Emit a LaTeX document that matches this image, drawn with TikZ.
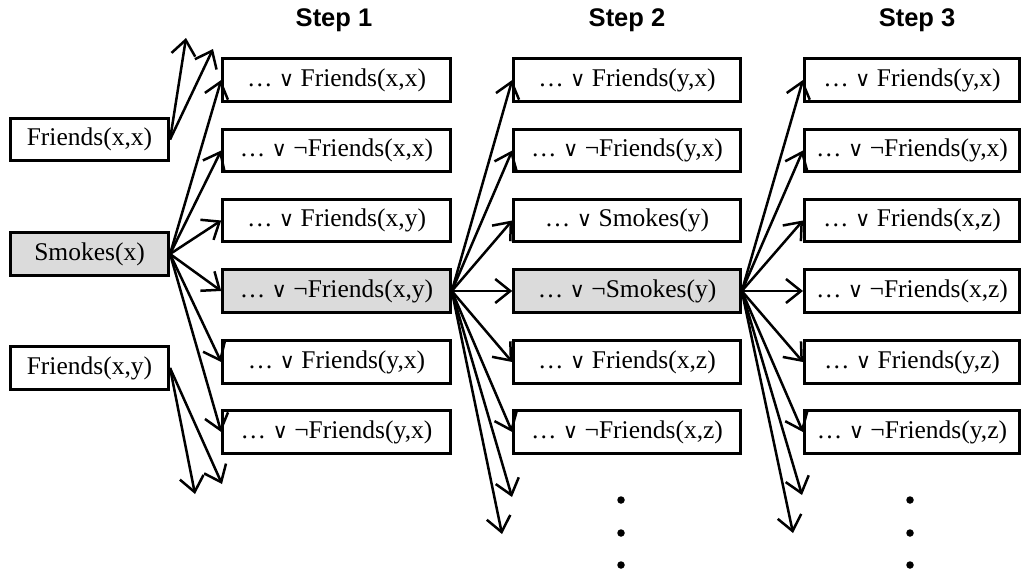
\documentclass[tikz,border=0pt]{standalone}
\usepackage{fontspec}
\setmainfont{Liberation Serif}
\newfontfamily\headfont{Liberation Sans}
\newfontfamily\orfont{DejaVu Sans}
\newcommand{\orsign}{{\orfont\fontsize{21}{24}\selectfont ∨}}
\usetikzlibrary{arrows.meta}
\begin{document}
\begin{tikzpicture}[x=1pt,y=-1pt,
  lit/.style={draw, line width=2.6pt, minimum height=42.5pt, inner sep=0pt,
    font=\fontsize{25.5}{28}\selectfont},
  lefty/.style={lit, minimum width=158.5pt},
  colone/.style={lit, minimum width=228pt},
  coltwo/.style={lit, minimum width=227pt},
  colthree/.style={lit, minimum width=215.5pt},
  hot/.style={fill=black!14},
  head/.style={font=\headfont\bfseries\fontsize{25.5}{30}\selectfont},
  arr/.style={line width=2.5pt, -{Straight Barb[length=15pt,width=24pt]}},
  dot/.style={circle, fill=black, inner sep=0pt, minimum size=7.5pt}]
\useasboundingbox (0,0) rectangle (1027,576);

% column headings
\node[head] (h1) at (334,20) {Step 1};
\node[head] (h2) at (627,20) {Step 2};
\node[head] (h3) at (917,20) {Step 3};

% starting literals
\node[lefty] (fxx) at (89.5,139.5) {Friends(x,x)};
\node[lefty,hot] (sx) at (89.5,254) {Smokes(x)};
\node[lefty] (fxy) at (89.5,368) {Friends(x,y)};

% step 1 clauses
\node[colone] (a1) at (336.5,80)  {\dots\ \orsign\ Friends(x,x)};
\node[colone] (a2) at (336.5,150.5) {\dots\ \orsign\ ¬Friends(x,x)};
\node[colone] (a3) at (336.5,220.5) {\dots\ \orsign\ Friends(x,y)};
\node[colone,hot] (a4) at (336.5,291) {\dots\ \orsign\ ¬Friends(x,y)};
\node[colone] (a5) at (336.5,362) {\dots\ \orsign\ Friends(y,x)};
\node[colone] (a6) at (336.5,432) {\dots\ \orsign\ ¬Friends(y,x)};

% step 2 clauses
\node[coltwo] (b1) at (627,80)  {\dots\ \orsign\ Friends(y,x)};
\node[coltwo] (b2) at (627,150.5) {\dots\ \orsign\ ¬Friends(y,x)};
\node[coltwo] (b3) at (627,220.5) {\dots\ \orsign\ Smokes(y)};
\node[coltwo,hot] (b4) at (627,291) {\dots\ \orsign\ ¬Smokes(y)};
\node[coltwo] (b5) at (627,362) {\dots\ \orsign\ Friends(x,z)};
\node[coltwo] (b6) at (627,432) {\dots\ \orsign\ ¬Friends(x,z)};

% step 3 clauses
\node[colthree] (c1) at (912,80)  {\dots\ \orsign\ Friends(y,x)};
\node[colthree] (c2) at (912,150.5) {\dots\ \orsign\ ¬Friends(y,x)};
\node[colthree] (c3) at (912,220.5) {\dots\ \orsign\ Friends(x,z)};
\node[colthree] (c4) at (912,291) {\dots\ \orsign\ ¬Friends(x,z)};
\node[colthree] (c5) at (912,362) {\dots\ \orsign\ Friends(y,z)};
\node[colthree] (c6) at (912,432) {\dots\ \orsign\ ¬Friends(y,z)};

% open ends of the expansion
\coordinate (u1) at (186,38);
\coordinate (u2) at (213,49);
\coordinate (d1) at (195,494);
\coordinate (d2) at (222,484);
\coordinate (e1) at (512,497);
\coordinate (e2) at (502,534);
\coordinate (f1) at (802,495);
\coordinate (f2) at (793,533);

% expansion arrows
\draw[arr] (fxx.east) -- (u1);
\draw[arr] (fxx.east) -- (u2);
\draw[arr] (fxy.east) -- (d1);
\draw[arr] (fxy.east) -- (d2);
\foreach \t in {a1,a2,a3,a4,a5,a6} \draw[arr] (sx.east) -- (\t.west);
\foreach \t in {b1,b2,b3,b4,b5,b6} \draw[arr] (a4.east) -- (\t.west);
\draw[arr] (a4.east) -- (e1);
\draw[arr] (a4.east) -- (e2);
\foreach \t in {c1,c2,c3,c4,c5,c6} \draw[arr] (b4.east) -- (\t.west);
\draw[arr] (b4.east) -- (f1);
\draw[arr] (b4.east) -- (f2);

% vertical ellipses
\node[dot] (p1) at (621,500) {};
\node[dot] (p2) at (621,533) {};
\node[dot] (p3) at (621,565) {};
\node[dot] (q1) at (910,500) {};
\node[dot] (q2) at (910,533) {};
\node[dot] (q3) at (910,565) {};
\end{tikzpicture}
\end{document}
